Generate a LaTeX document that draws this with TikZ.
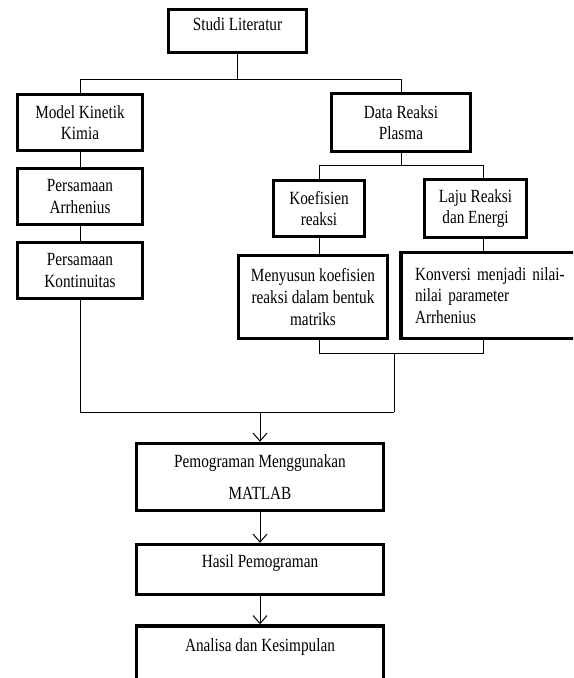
\documentclass[tikz,border=0pt]{standalone}
\usepackage{fontspec}
\setmainfont{Liberation Serif}[FakeStretch=0.82]
\usetikzlibrary{arrows.meta}
\def\u{0.5pt}

\tikzset{
  box/.style={draw, line width=1.7pt, align=center},
  link/.style={line width=0.5pt},
  arr/.style={link, -{Straight Barb[length=4pt,width=7pt]}}
}

\begin{document}
\begin{tikzpicture}[x=\u, y=-\u, font=\fontsize{9.3pt}{10.8pt}\selectfont]
\useasboundingbox (0,0) rectangle (573,678);
\clip (0,0) rectangle (573,678);

%top box
\node[box, minimum width=69pt, minimum height=21.5pt, text depth=6.5pt] (studi) at (237.5,31) {Studi Literatur};

%left column
\node[box, minimum width=62.5pt, minimum height=28pt] (model) at (80,122.5) {Model Kinetik\\Kimia};
\node[box, minimum width=62.5pt, minimum height=28pt] (arrh) at (80,196.5) {Persamaan\\Arrhenius};
\node[box, minimum width=62.5pt, minimum height=28pt] (kont) at (80,270.5) {Persamaan\\Kontinuitas};

%right column
\node[box, minimum width=69.5pt, minimum height=29pt] (data) at (401,122.5) {Data Reaksi\\Plasma};
\node[box, minimum width=45.5pt, minimum height=28pt] (koef) at (319,208.5) {Koefisien\\reaksi};
\node[box, minimum width=51pt, minimum height=29pt] (laju) at (475.5,208.5) {Laju Reaksi\\dan Energi};
\node[box, minimum width=74.5pt, minimum height=41.5pt] (susun) at (313,297) {Menyusun koefisien\\reaksi dalam bentuk\\matriks};
\node[box, align=left, text width=75pt, minimum width=89pt, minimum height=43pt] (konv) at (490,295.5) {Konversi menjadi nilai-\\nilai parameter\\Arrhenius};

%bottom column
\node[box, minimum width=123.5pt, minimum height=33.5pt] (pemo) at (260,477) {Pemograman Menggunakan\\[5.2pt]MATLAB};
\node[box, minimum width=123.5pt, minimum height=25pt, text depth=8pt] (hasil) at (260,569.5) {Hasil Pemograman};
\node[box, minimum width=123.5pt, minimum height=30pt, text depth=11pt] (analisa) at (260,656) {Analisa dan Kesimpulan};

%branches
\draw[link] (studi.south) -- ++(0,25) coordinate (j1);
\draw[link] (model.north) |- (j1) -| (data.north);
\draw[link] (model) -- (arrh);
\draw[link] (arrh) -- (kont);

\coordinate (rbus) at (483,0);
\draw[link] (data.south) -- ++(0,12) coordinate (j2);
\draw[link] (koef.north) |- (j2) -| (laju.north -| rbus);
\draw[link] (koef.south) -- (koef.south |- susun.north);
\draw[link] (laju.south -| rbus) -- (konv.north -| rbus);

%join
\path (susun.east) -- (konv.west) coordinate[midway] (mid);
\draw[link] (koef.south |- susun.south) -- ++(0,13) coordinate (j3) -| (konv.south -| rbus);
\draw[link] (j3 -| mid) -- ++(0,59) coordinate (j4);
\draw[link] (kont.south) |- (j4);
\draw[arr] (pemo.north |- j4) -- (pemo);

\foreach \a/\b in {pemo/hasil, hasil/analisa}
  \draw[arr] (\a) -- (\b);

\end{tikzpicture}
\end{document}
